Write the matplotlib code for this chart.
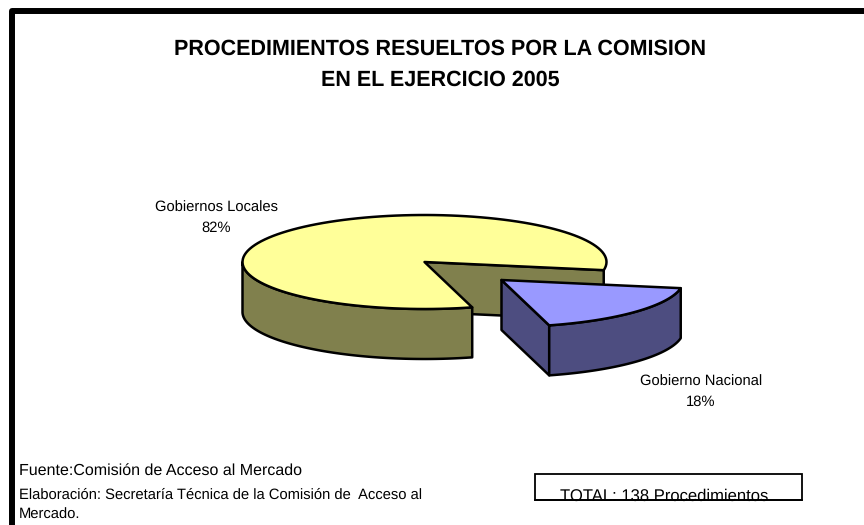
import matplotlib
matplotlib.use('Agg')
import matplotlib.pyplot as plt
import numpy as np

categories = ['Gobiernos Locales', 'Gobierno Nacional']
shares = [82, 18]

title = 'PROCEDIMIENTOS RESUELTOS POR LA COMISION\nEN EL EJERCICIO 2005'
fuente = 'Fuente:Comisión de Acceso al Mercado'
elaboracion = 'Elaboración: Secretaría Técnica de la Comisión de  Acceso al\nMercado.'
total = 'TOTAL: 138 Procedimientos'

plt.rcParams['font.family'] = ['Liberation Sans', 'DejaVu Sans']
plt.rcParams['text.hinting'] = 'no_hinting'

# pie geometry, in pixels of the picture
cx, cy = 424.5, 262
rx, ry = 182, 47
depth = 50
explode = (77, 18)
start = -10 - shares[1] / sum(shares) * 360
lw = 1.8


def rim(x0, y0, a0, a1):
    t = np.radians(np.linspace(a0, a1, 120))
    return x0 + rx * np.cos(t), y0 - ry * np.sin(t)


def draw_slice(ax, x0, y0, a0, a1, top, side):
    # flat wall at the a0 side first
    xe, ye = rim(x0, y0, a0, a0)
    ax.fill([x0, xe[0], xe[0], x0], [y0, ye[0], ye[0] + depth, y0 + depth],
            fc=side, ec='k', lw=lw, joinstyle='round', zorder=2)
    # outer wall, only the part in front of the pie
    if a1 > 180:
        xs, ys = rim(x0, y0, 180, a1)
    else:
        xs, ys = rim(x0, y0, a0, min(a1, 0))
    ax.fill(np.r_[xs, xs[::-1]], np.r_[ys, ys[::-1] + depth],
            fc=side, ec='k', lw=lw, joinstyle='round', zorder=3)
    # top face
    xs, ys = rim(x0, y0, a0, a1)
    ax.fill(np.r_[x0, xs], np.r_[y0, ys], fc=top, ec='k', lw=lw,
            joinstyle='round', zorder=4)


fig = plt.figure(figsize=(8.64, 5.25), dpi=100)
ax = fig.add_axes([0, 0, 1, 1])
ax.set_xlim(0, 864)
ax.set_ylim(525, 0)
ax.axis('off')

# outer frame of the sheet, only the top and left sides are in the crop
ax.plot([12, 12, 870], [530, 11, 11], color='k', lw=4.3,
        solid_joinstyle='round', zorder=1)

sweep = [s / sum(shares) * 360 for s in shares]
# big slice runs on from the end of the small one
draw_slice(ax, cx, cy, start + sweep[1], start + sweep[1] + sweep[0],
           '#ffff99', '#80804d')
draw_slice(ax, cx + explode[0], cy + explode[1], start, start + sweep[1],
           '#9999ff', '#4d4d80')

lines = title.split('\n')
ax.text(440, 49, lines[0], ha='center', va='center',
        fontsize=15.5, fontweight='bold', color='k')
ax.text(440, 80, lines[1], ha='center', va='center',
        fontsize=15.5, fontweight='bold', color='k')

ax.text(216, 208, categories[0], ha='center', va='center', fontsize=10.6, color='k')
ax.text(216, 228, '%d%%' % shares[0], ha='center', va='center', fontsize=10.6, color='k')
ax.text(701, 382, categories[1], ha='center', va='center', fontsize=10.6, color='k')
ax.text(701, 402, '%d%%' % shares[1], ha='center', va='center', fontsize=10.6, color='k')

ax.text(19, 471, fuente, ha='left', va='center', fontsize=11.5, color='k')
foot = elaboracion.split('\n')
ax.text(19, 495, foot[0], ha='left', va='center', fontsize=10.6, color='k')
ax.text(19, 515, foot[1], ha='left', va='center', fontsize=10.6, color='k')

ax.text(664, 496, total, ha='center', va='center', fontsize=12, color='k', zorder=5)
ax.fill([535, 802, 802, 535], [474, 474, 500, 500], fc='white', ec='k', lw=1.3, zorder=4)
ax.plot([535, 802], [500, 500], color='k', lw=1.3, zorder=6)

fig.savefig('out.png', dpi=100)
